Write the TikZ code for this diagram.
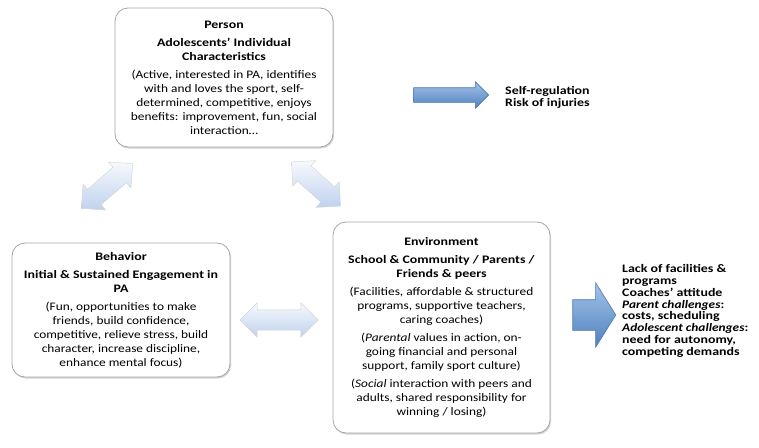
\documentclass[tikz,border=0pt]{standalone}
\usepackage{fontspec}
\setmainfont{Carlito}[FakeStretch=1.16,BoldFeatures={FakeStretch=1.21}]
\usepackage{tikz}
\usetikzlibrary{shapes.arrows,shadows}
\definecolor{boxline}{HTML}{A6A6A6}
\definecolor{paleTop}{HTML}{F7F9FD}
\definecolor{paleBot}{HTML}{BFD2EE}
\definecolor{blueTop}{HTML}{A3C2EA}
\definecolor{blueBot}{HTML}{4F81BD}
\definecolor{blueEdge}{HTML}{4A78B0}

\begin{document}
\begin{tikzpicture}[x=1pt,y=-1pt,
  box/.style={draw=boxline,line width=0.8pt,fill=white,rounded corners=13pt,
    drop shadow={shadow xshift=1pt,shadow yshift=-1.5pt,opacity=0.35},
    align=center,inner sep=0pt,font=\fontsize{11.5}{14}\selectfont},
  twoway/.style={double arrow,double arrow head extend=7pt,double arrow tip angle=90,
    inner xsep=0pt,inner ysep=10pt,top color=paleTop,bottom color=paleBot,
    draw=gray!35,line width=0.4pt},
  outcome/.style={single arrow,inner xsep=0pt,top color=blueTop,bottom color=blueBot,
    draw=blueEdge,line width=0.6pt},
  note/.style={align=left,anchor=west,inner sep=0pt,
    font=\fontsize{11.5}{11.8}\selectfont\bfseries}]
\useasboundingbox (0,0) rectangle (759,447);

\node[box,minimum width=218pt,minimum height=139pt] (person) at (224,77.5) {
\textbf{Person}\\[4pt]
\textbf{Adolescents’ Individual}\\
\textbf{Characteristics}\\[4pt]
(Active, interested in PA, identifies\\
with and loves the sport, self-\\
determined, competitive, enjoys\\
benefits: improvement, fun, social\\
interaction…};

\node[box,minimum width=218pt,minimum height=134pt] (behavior) at (121,310) {
\textbf{Behavior}\\[4pt]
\textbf{Initial \& Sustained Engagement in}\\
\textbf{PA}\\[4pt]
(Fun, opportunities to make\\
friends, build confidence,\\
competitive, relieve stress, build\\
character, increase discipline,\\
enhance mental focus)};

\node[box,minimum width=217pt,minimum height=211pt] (environment) at (441.5,327.5) {
\textbf{Environment}\\[4pt]
\textbf{School \& Community / Parents /}\\
\textbf{Friends \& peers}\\[4pt]
(Facilities, affordable \& structured\\
programs, supportive teachers,\\
caring coaches)\\[4pt]
(\textit{Parental} values in action, on-\\
going financial and personal\\
support, family sport culture)\\[4pt]
(\textit{Social} interaction with peers and\\
adults, shared responsibility for\\
winning / losing)};

\node[twoway,minimum height=68pt,rotate=41] (pb) at (107,186) {};
\node[twoway,minimum height=66pt,rotate=-42] (pe) at (316,184) {};
\node[twoway,minimum height=78pt] (be) at (279,320) {};

\node[outcome,minimum height=75pt,inner ysep=7pt,single arrow head extend=6pt,
  single arrow tip angle=90] (selfarrow) at (447.5,95) {};
\node[note] (selftext) at (505,97.5) {Self-regulation\\Risk of injuries};

\node[outcome,minimum height=43pt,inner ysep=15pt,single arrow head extend=17pt,
  single arrow tip angle=116] (barrierarrow) at (589.5,315) {};
\node[note] (barriers) at (622,311) {Lack of facilities \&\\
programs\\
Coaches’ attitude\\
\textit{Parent challenges}:\\
costs, scheduling\\
\textit{Adolescent challenges}:\\
need for autonomy,\\
competing demands};
\end{tikzpicture}
\end{document}
